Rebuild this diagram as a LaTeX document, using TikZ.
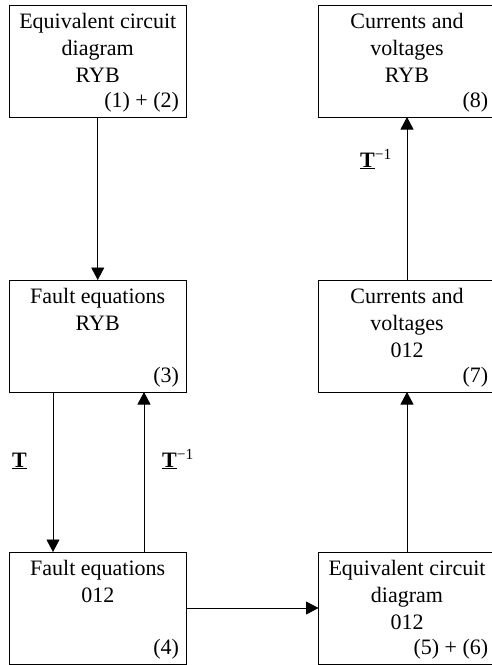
\documentclass[tikz,border=0pt]{standalone}
\usepackage{fontspec}
\setmainfont{Liberation Serif}
\usetikzlibrary{arrows.meta,calc}
\begin{document}
\begin{tikzpicture}[x=1pt,y=-1pt,
  box/.style={draw, line width=1pt, minimum width=177pt, minimum height=112pt, inner sep=0pt, outer sep=0pt},
  txt/.style={anchor=base, inner sep=0pt, font=\fontsize{22}{26}\selectfont},
  num/.style={anchor=base east, inner sep=0pt, font=\fontsize{22}{26}\selectfont},
  arr/.style={line width=0.8pt, -{Triangle[length=12.5pt,width=13pt]}},
  lab/.style={anchor=base west, inner sep=0pt, font=\fontsize{22}{26}\selectfont}]
\useasboundingbox (0,0) rectangle (491,665);
% boxes
\node[box] (b1) at (97.75,61) {};
\node[box] (b3) at (97.75,336) {};
\node[box] (b4) at (97.75,608) {};
\node[box] (b8) at (407,61) {};
\node[box] (b7) at (407,336) {};
\node[box] (b5) at (407,608) {};
% texts
\node[txt] (t1a) at ($(b1.north)+(0,23)$) {Equivalent circuit};
\node[txt] (t1b) at ($(b1.north)+(0,50)$) {diagram};
\node[txt] (t1c) at ($(b1.north)+(0,77)$) {RYB};
\node[num] (n1) at ($(b1.south east)+(-7,-10)$) {(1) + (2)};
\node[txt] (t3a) at ($(b3.north)+(0,23)$) {Fault equations};
\node[txt] (t3b) at ($(b3.north)+(0,50)$) {RYB};
\node[num] (n3) at ($(b3.south east)+(-7,-10)$) {(3)};
\node[txt] (t4a) at ($(b4.north)+(0,23)$) {Fault equations};
\node[txt] (t4b) at ($(b4.north)+(0,50)$) {012};
\node[num] (n4) at ($(b4.south east)+(-7,-10)$) {(4)};
\node[txt] (t8a) at ($(b8.north)+(0,23)$) {Currents and};
\node[txt] (t8b) at ($(b8.north)+(0,50)$) {voltages};
\node[txt] (t8c) at ($(b8.north)+(0,77)$) {RYB};
\node[num] (n8) at ($(b8.south east)+(-7,-10)$) {(8)};
\node[txt] (t7a) at ($(b7.north)+(0,23)$) {Currents and};
\node[txt] (t7b) at ($(b7.north)+(0,50)$) {voltages};
\node[txt] (t7c) at ($(b7.north)+(0,77)$) {012};
\node[num] (n7) at ($(b7.south east)+(-7,-10)$) {(7)};
\node[txt] (t5a) at ($(b5.north)+(0,23)$) {Equivalent circuit};
\node[txt] (t5b) at ($(b5.north)+(0,50)$) {diagram};
\node[txt] (t5c) at ($(b5.north)+(0,77)$) {012};
\node[num] (n5) at ($(b5.south east)+(-7,-10)$) {(5) + (6)};
% arrows
\draw[arr] (b1.south) -- (b3.north);
\draw[arr] ($(b3.south)+(-44.75,0)$) -- ($(b4.north)+(-44.75,0)$);
\draw[arr] ($(b4.north)+(46.25,0)$) -- ($(b3.south)+(46.25,0)$);
\draw[arr] (b4.east) -- (b5.west);
\draw[arr] (b5.north) -- (b7.south);
\draw[arr] (b7.north) -- (b8.south);
% labels
\node[lab] (lT) at (12,467) {\underline{\textbf{T}}};
\node[lab] (lTi) at (162,467) {\underline{\textbf{T}}\textsuperscript{−1}};
\node[lab] (rTi) at (360,167) {\underline{\textbf{T}}\textsuperscript{−1}};
\end{tikzpicture}
\end{document}
